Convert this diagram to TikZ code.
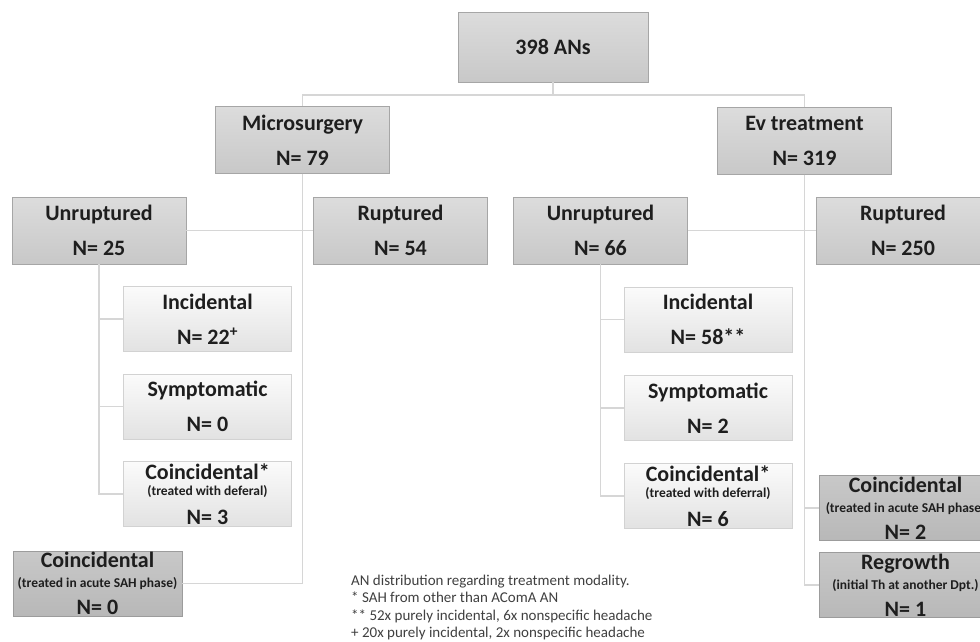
\documentclass[tikz,border=0pt]{standalone}
\usepackage{fontspec}
\setmainfont{Carlito}
\usepackage{tikz}
\definecolor{ink}{HTML}{1E1E1E}
\definecolor{noteink}{HTML}{404040}
\definecolor{wire}{HTML}{D6D6D6}
\definecolor{hiline}{HTML}{A6A6A6}
\definecolor{hitop}{HTML}{DCDCDC}
\definecolor{hibot}{HTML}{C8C8C8}
\definecolor{loline}{HTML}{D2D2D2}
\definecolor{lotop}{HTML}{FBFBFB}
\definecolor{lobot}{HTML}{E2E2E2}
\definecolor{dkline}{HTML}{9C9C9C}
\definecolor{dktop}{HTML}{C8C8C8}
\definecolor{dkbot}{HTML}{B8B8B8}
\newcommand{\subtxt}{\fontsize{13.5}{13.5}\selectfont}
\tikzstyle{lvl}=[draw=hiline,top color=hitop,bottom color=hibot,minimum width=174pt,minimum height=67pt,inner sep=0pt,align=center,text=ink,font=\bfseries\fontsize{22}{35}\selectfont]
\tikzstyle{leaf}=[lvl,draw=loline,top color=lotop,bottom color=lobot,minimum width=168pt,minimum height=65pt]
\tikzstyle{dark}=[lvl,draw=dkline,top color=dktop,bottom color=dkbot,minimum width=171pt,minimum height=65pt]
\tikzstyle{tri}=[font=\bfseries\fontsize{22}{22}\selectfont]
\tikzstyle{link}=[wire,line width=1.6pt]

\begin{document}
\begin{tikzpicture}[x=1pt,y=-1pt]
    \fill[white] (0,0) rectangle (980,641);
    \useasboundingbox (0,0) rectangle (980,641);
    \node[lvl,minimum width=190pt,minimum height=70pt] (root) at (553,47) {398 ANs};
    \coordinate (split) at (553,95);
    \node[lvl] (ms) at (302.5,140) {Microsurgery\\N= 79};
    \node[lvl] (ev) at (804.5,141) {Ev treatment\\N= 319};
    \node[lvl] (unrL) at (99,230.5) {Unruptured\\N= 25};
    \node[lvl] (rupL) at (400.5,230.5) {Ruptured\\N= 54};
    \node[lvl] (unrR) at (600.5,230.5) {Unruptured\\N= 66};
    \node[lvl] (rupR) at (903,230.5) {Ruptured\\N= 250};
    \node[leaf] (incL) at (207.5,319) {Incidental\\N= 22\textsuperscript{+}};
    \node[leaf] (symL) at (207.5,406.5) {Symptomatic\\N= 0};
    \node[leaf,tri] (coiL) at (207.5,494) {Coincidental*\\[-6pt]{\subtxt (treated with deferal)}\\[7pt]N= 3};
    \node[leaf] (incR) at (708,319.5) {Incidental\\N= 58**};
    \node[leaf] (symR) at (708,408) {Symptomatic\\N= 2};
    \node[leaf,tri] (coiR) at (708,496) {Coincidental*\\[-6pt]{\subtxt (treated with deferral)}\\[7pt]N= 6};
    \node[dark,tri,minimum width=169pt] (acuL) at (97.5,583.5) {Coincidental\\[-2pt]{\subtxt (treated in acute SAH phase)}\\[5pt]N= 0};
    \node[dark,tri,minimum width=173pt] (acuR) at (905.5,508) {Coincidental\\[-2pt]{\subtxt (treated in acute SAH phase)}\\[5pt]N= 2};
    \node[dark,tri,minimum width=173pt] (regR) at (905.5,585) {Regrowth\\[-2pt]{\subtxt (initial Th at another Dpt.)}\\[5pt]N= 1};
    \node[anchor=north west,inner sep=0pt,align=left,text=noteink,font=\fontsize{15}{17.3}\selectfont] (note) at (351,575) {AN distribution regarding treatment modality.\\* SAH from other than AComA AN\\** 52x purely incidental, 6x nonspecific headache\\+ 20x purely incidental, 2x nonspecific headache};
    \draw[link] (root.south) -- (split);
    \draw[link] (split) -| (ms.north);
    \draw[link] (split) -| (ev.north);
    \draw[link] (ms.south) |- (acuL.east);
    \draw[link] (ev.south) |- (acuR.west);
    \draw[link] (ev.south) |- (regR.west);
    \draw[link] (unrL.east) -- (rupL.west);
    \draw[link] (unrR.east) -- (rupR.west);
    \foreach \a in {incL,symL,coiL} \draw[link] (unrL.south) |- (\a.west);
    \foreach \a in {incR,symR,coiR} \draw[link] (unrR.south) |- (\a.west);
\end{tikzpicture}
\end{document}
